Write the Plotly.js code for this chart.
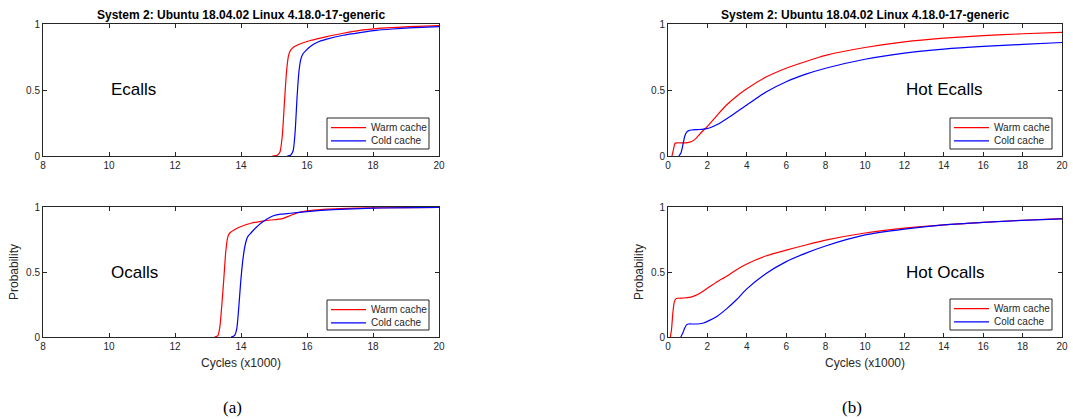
<!DOCTYPE html>
<html>
<head>
<meta charset="utf-8">
<script src="https://cdn.plot.ly/plotly-3.0.1.min.js"></script>
<style>html,body{margin:0;padding:0;background:#fff;} #chart{width:1073px;height:419px;}</style>
</head>
<body>
<div id="chart"></div>
<script>
// ---- tick values ----
const xTicksLeft = [8, 10, 12, 14, 16, 18, 20];
const xTicksRight = [0, 2, 4, 6, 8, 10, 12, 14, 16, 18, 20];
const yTicks = [0, 0.5, 1];
const yTickText = ['0', '0.5', '1'];

// ---- series names / panel labels ----
const seriesNames = ['Warm cache', 'Cold cache'];
const panelLabels = ['Ecalls', 'Ocalls', 'Hot Ecalls', 'Hot Ocalls'];
const figTitle = 'System 2: Ubuntu 18.04.02 Linux 4.18.0-17-generic';

// ---- Ecalls (x1000 cycles) ----
const ecallsWarmX = [14.95, 15.1, 15.18, 15.25, 15.32, 15.38, 15.44, 15.5, 15.6, 15.8, 16.1, 16.6, 17.1, 17.6, 18.1, 18.6, 19.1, 20];
const ecallsWarmY = [0, 0.005, 0.03, 0.15, 0.42, 0.64, 0.76, 0.8, 0.825, 0.85, 0.875, 0.905, 0.93, 0.952, 0.965, 0.973, 0.98, 0.988];
const ecallsColdX = [15.4, 15.5, 15.58, 15.64, 15.7, 15.76, 15.82, 15.88, 15.95, 16.1, 16.3, 16.6, 17.1, 17.6, 18.1, 18.6, 19.1, 20];
const ecallsColdY = [0, 0.005, 0.04, 0.18, 0.45, 0.65, 0.74, 0.775, 0.795, 0.83, 0.86, 0.885, 0.915, 0.935, 0.952, 0.962, 0.97, 0.98];

// ---- Ocalls ----
const ocallsWarmX = [13.2, 13.3, 13.36, 13.42, 13.48, 13.54, 13.6, 13.66, 13.8, 14.0, 14.3, 14.6, 14.9, 15.1, 15.3, 15.5, 15.7, 16.0, 16.5, 17, 18, 19, 20];
const ocallsWarmY = [0, 0.01, 0.08, 0.25, 0.45, 0.66, 0.77, 0.8, 0.825, 0.85, 0.875, 0.89, 0.9, 0.905, 0.915, 0.935, 0.955, 0.97, 0.982, 0.988, 0.993, 0.995, 0.996];
const ocallsColdX = [13.7, 13.8, 13.87, 13.93, 13.99, 14.05, 14.12, 14.2, 14.3, 14.45, 14.6, 14.8, 15.0, 15.2, 15.5, 16.0, 16.8, 18, 20];
const ocallsColdY = [0, 0.01, 0.06, 0.22, 0.42, 0.58, 0.7, 0.77, 0.8, 0.84, 0.875, 0.91, 0.935, 0.945, 0.952, 0.965, 0.98, 0.992, 0.996];

// ---- Hot Ecalls ----
const hotEcallsWarmX = [0.2, 0.28, 0.35, 0.45, 0.7, 1.0, 1.2, 1.4, 1.7, 2.0, 2.5, 3.0, 3.5, 4.0, 5.0, 6.0, 7.0, 8.0, 10, 12, 14, 16, 18, 20];
const hotEcallsWarmY = [0, 0.05, 0.095, 0.1, 0.1, 0.102, 0.11, 0.13, 0.18, 0.225, 0.31, 0.39, 0.455, 0.51, 0.6, 0.665, 0.716, 0.762, 0.822, 0.865, 0.893, 0.912, 0.926, 0.937];
const hotEcallsColdX = [0.55, 0.65, 0.75, 0.85, 0.95, 1.05, 1.2, 1.5, 1.8, 2.1, 2.5, 3.0, 3.5, 4.0, 5.0, 6.0, 7.0, 8.0, 10, 12, 14, 16, 18, 20];
const hotEcallsColdY = [0, 0.02, 0.08, 0.15, 0.18, 0.192, 0.197, 0.2, 0.203, 0.212, 0.238, 0.284, 0.335, 0.386, 0.487, 0.563, 0.62, 0.665, 0.733, 0.78, 0.81, 0.83, 0.845, 0.86];

// ---- Hot Ocalls ----
const hotOcallsWarmX = [0.12, 0.18, 0.25, 0.32, 0.4, 0.5, 0.8, 1.1, 1.4, 1.7, 2.0, 2.5, 3.0, 3.5, 4.0, 5.0, 6.0, 7.0, 8.0, 10, 12, 14, 16, 18, 20];
const hotOcallsWarmY = [0, 0.06, 0.19, 0.27, 0.293, 0.298, 0.3, 0.305, 0.32, 0.345, 0.375, 0.425, 0.47, 0.52, 0.562, 0.625, 0.668, 0.708, 0.745, 0.8, 0.837, 0.863, 0.882, 0.898, 0.91];
const hotOcallsColdX = [0.65, 0.75, 0.85, 0.95, 1.05, 1.3, 1.6, 1.8, 2.0, 2.5, 3.0, 3.5, 4.0, 5.0, 6.0, 7.0, 8.0, 10, 12, 14, 16, 18, 20];
const hotOcallsColdY = [0, 0.03, 0.07, 0.095, 0.1, 0.1, 0.102, 0.108, 0.12, 0.16, 0.22, 0.29, 0.37, 0.49, 0.58, 0.645, 0.7, 0.785, 0.83, 0.862, 0.882, 0.897, 0.908];

const RED = '#ff0000', BLUE = '#0000ff';
const seriesColors = [RED, BLUE];
const FONT = 'Liberation Sans, Arial, Helvetica, sans-serif';
const AXC = '#262626';

function tr(x, y, name, color, ax) {
  return {x: x, y: y, name: name, type: 'scatter', mode: 'lines',
    line: {color: color, width: 1.2, shape: 'spline', smoothing: 0.6},
    xaxis: 'x' + (ax === 1 ? '' : ax), yaxis: 'y' + (ax === 1 ? '' : ax),
    showlegend: false, hoverinfo: 'skip'};
}

const data = [
  tr(ecallsWarmX, ecallsWarmY, seriesNames[0], RED, 1),
  tr(ecallsColdX, ecallsColdY, seriesNames[1], BLUE, 1),
  tr(ocallsWarmX, ocallsWarmY, seriesNames[0], RED, 2),
  tr(ocallsColdX, ocallsColdY, seriesNames[1], BLUE, 2),
  tr(hotEcallsWarmX, hotEcallsWarmY, seriesNames[0], RED, 3),
  tr(hotEcallsColdX, hotEcallsColdY, seriesNames[1], BLUE, 3),
  tr(hotOcallsWarmX, hotOcallsWarmY, seriesNames[0], RED, 4),
  tr(hotOcallsColdX, hotOcallsColdY, seriesNames[1], BLUE, 4)
];

const W = 1073, H = 419;
const px = v => v / W;
const py = v => 1 - v / H;
const leftDom = [px(43), px(439)];
const rightDom = [px(668), px(1062)];
const topDom = [py(156), py(24)];
const botDom = [py(337), py(207)];

function xa(dom, anchor, range, ticks, title) {
  const o = {domain: dom, anchor: anchor, range: range, tickvals: ticks,
    ticks: 'inside', ticklen: 4, tickwidth: 1, tickcolor: AXC,
    showline: true, linecolor: AXC, linewidth: 1, mirror: 'ticks',
    showgrid: false, zeroline: false, fixedrange: true,
    tickfont: {family: FONT, size: 10, color: AXC}};
  if (title) o.title = {text: title, font: {family: FONT, size: 12, color: AXC}, standoff: 7};
  return o;
}
function ya(dom, anchor, title) {
  const o = {domain: dom, anchor: anchor, range: [0, 1], tickvals: yTicks, ticktext: yTickText,
    ticks: 'inside', ticklen: 4, tickwidth: 1, tickcolor: AXC,
    showline: true, linecolor: AXC, linewidth: 1, mirror: 'ticks',
    showgrid: false, zeroline: false, fixedrange: true,
    tickfont: {family: FONT, size: 10, color: AXC}};
  if (title) o.title = {text: title, font: {family: FONT, size: 12, color: AXC}, standoff: 4};
  return o;
}

// custom MATLAB-style legend boxes (left, top, right, bottom in pixels)
const shapes = [];
const annotations = [];
function addLegend(l, t, r, b) {
  shapes.push({type: 'rect', xref: 'paper', yref: 'paper', x0: px(l), x1: px(r), y0: py(b), y1: py(t),
    line: {color: AXC, width: 1}, fillcolor: '#ffffff', layer: 'above'});
  const rows = [t + 9.7, t + 22.9];
  seriesNames.forEach((n, i) => {
    shapes.push({type: 'line', xref: 'paper', yref: 'paper', x0: px(l + 4), x1: px(l + 39), y0: py(rows[i]), y1: py(rows[i]),
      line: {color: seriesColors[i], width: 1.3}, layer: 'above'});
    annotations.push({text: n, xref: 'paper', yref: 'paper', x: px(l + 41.5), y: py(rows[i]), xanchor: 'left', yanchor: 'middle',
      showarrow: false, font: {family: FONT, size: 10, color: AXC}});
  });
}
addLegend(327, 118, 429, 149);
addLegend(327, 300, 429, 330);
addLegend(950, 118, 1052, 149);
addLegend(950, 299, 1052, 330);

const annFont = {family: FONT, size: 17, color: '#000'};
const titleFont = {family: FONT, size: 12, color: '#000'};
annotations.push(
  {text: '<b>' + figTitle + '</b>', xref: 'paper', yref: 'paper', x: (leftDom[0] + leftDom[1]) / 2, y: py(15), xanchor: 'center', yanchor: 'middle', showarrow: false, font: titleFont},
  {text: '<b>' + figTitle + '</b>', xref: 'paper', yref: 'paper', x: (rightDom[0] + rightDom[1]) / 2, y: py(15), xanchor: 'center', yanchor: 'middle', showarrow: false, font: titleFont},
  {text: panelLabels[0], xref: 'x', yref: 'y', x: 10, y: 0.5, xanchor: 'left', yanchor: 'middle', showarrow: false, font: annFont},
  {text: panelLabels[1], xref: 'x2', yref: 'y2', x: 10, y: 0.5, xanchor: 'left', yanchor: 'middle', showarrow: false, font: annFont},
  {text: panelLabels[2], xref: 'x3', yref: 'y3', x: 12, y: 0.5, xanchor: 'left', yanchor: 'middle', showarrow: false, font: annFont},
  {text: panelLabels[3], xref: 'x4', yref: 'y4', x: 12, y: 0.5, xanchor: 'left', yanchor: 'middle', showarrow: false, font: annFont},
  {text: '(a)', xref: 'paper', yref: 'paper', x: px(232), y: py(407), xanchor: 'center', yanchor: 'middle', showarrow: false, font: {family: 'Liberation Serif, Times New Roman, serif', size: 17, color: '#000'}},
  {text: '(b)', xref: 'paper', yref: 'paper', x: px(852), y: py(407), xanchor: 'center', yanchor: 'middle', showarrow: false, font: {family: 'Liberation Serif, Times New Roman, serif', size: 17, color: '#000'}}
);

const layout = {
  width: W, height: H, margin: {l: 0, r: 0, t: 0, b: 0},
  paper_bgcolor: '#fff', plot_bgcolor: '#fff', showlegend: false,
  xaxis: xa(leftDom, 'y', [8, 20], xTicksLeft),
  yaxis: ya(topDom, 'x'),
  xaxis2: xa(leftDom, 'y2', [8, 20], xTicksLeft, 'Cycles (x1000)'),
  yaxis2: ya(botDom, 'x2', 'Probability'),
  xaxis3: xa(rightDom, 'y3', [0, 20], xTicksRight),
  yaxis3: ya(topDom, 'x3'),
  xaxis4: xa(rightDom, 'y4', [0, 20], xTicksRight, 'Cycles (x1000)'),
  yaxis4: ya(botDom, 'x4', 'Probability'),
  shapes: shapes,
  annotations: annotations
};

Plotly.newPlot('chart', data, layout, {displayModeBar: false, staticPlot: true});
</script>
</body>
</html>
